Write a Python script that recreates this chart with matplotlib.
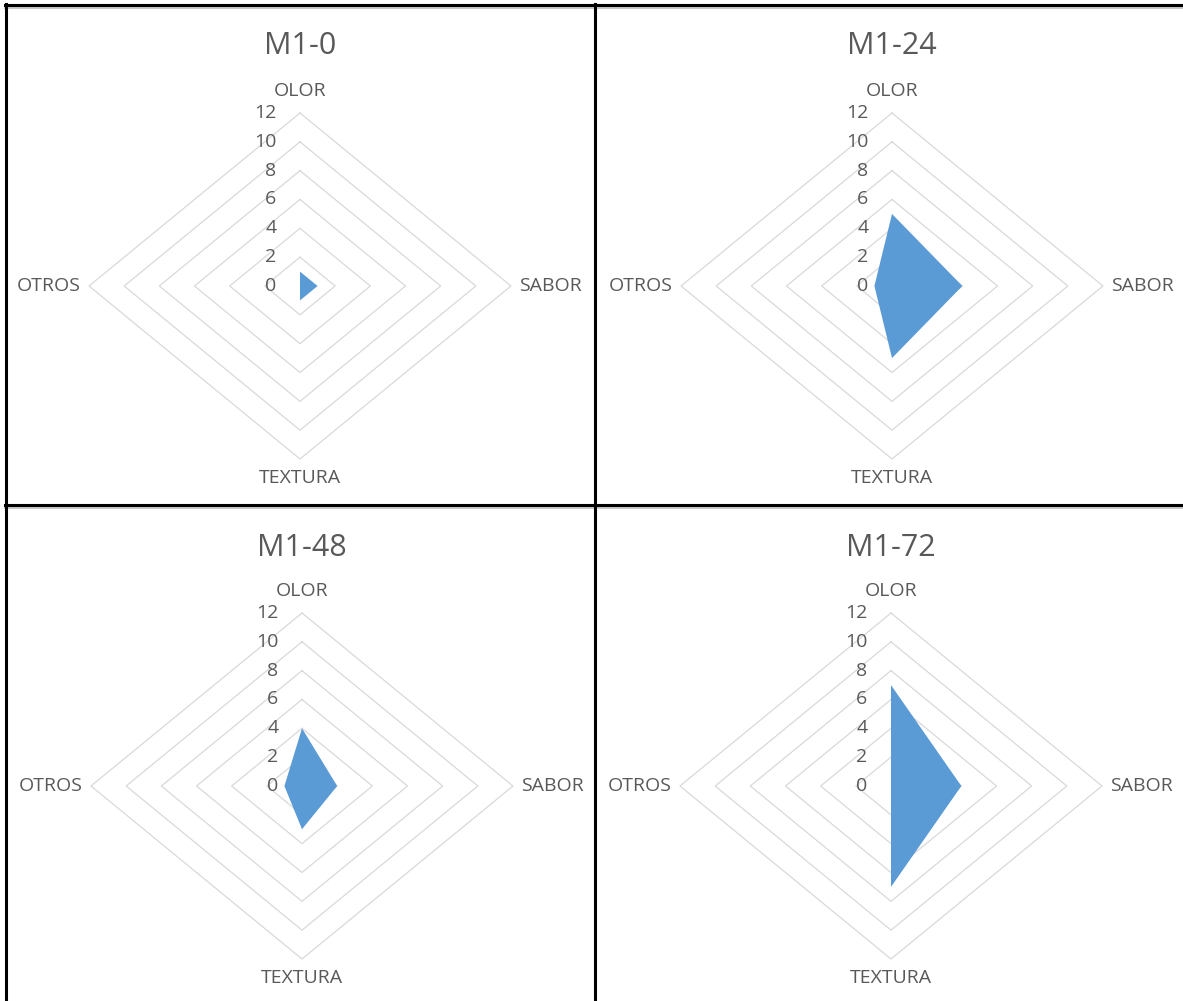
import numpy as np
import matplotlib
matplotlib.use("Agg")
import matplotlib.pyplot as plt
from matplotlib.lines import Line2D

plt.rcParams['font.family'] = ['Open Sans', 'DejaVu Sans']

categories = ["OLOR", "SABOR", "TEXTURA", "OTROS"]
titles = ["M1-0", "M1-24", "M1-48", "M1-72"]
m1_0 = [1, 1, 1, 0]
m1_24 = [5, 4, 5, 1]
m1_48 = [4, 2, 3, 1]
m1_72 = [7, 4, 7, 0]
series = [m1_0, m1_24, m1_48, m1_72]
ticks = [0, 2, 4, 6, 8, 10, 12]
rmax = 12

W, H = 1183, 1001
fig = plt.figure(figsize=(W / 100, H / 100), dpi=100)

# panel centres (pixels from top-left) and title heights
centres = [(300, 286), (892, 286), (302, 786), (891, 786)]
title_y = [46, 46, 548, 548]
half_w, half_h = 211, 173

angles = np.pi / 2 - np.arange(len(categories)) * 2 * np.pi / len(categories)
dx = np.round(np.cos(angles), 6)
dy = np.round(np.sin(angles), 6)

grey = "#595959"
grid = "#d9d9d9"
fill = "#5B9BD5"

for (cx, cy), ty, title, vals in zip(centres, title_y, titles, series):
    ax = fig.add_axes([(cx - half_w) / W, (H - cy - half_h) / H,
                       2 * half_w / W, 2 * half_h / H])
    ax.set_xlim(-rmax, rmax)
    ax.set_ylim(-rmax, rmax)
    ax.axis('off')

    # diamond grid
    for t in ticks[1:]:
        gx = np.append(dx * t, dx[0] * t)
        gy = np.append(dy * t, dy[0] * t)
        ax.plot(gx, gy, color=grid, lw=0.9, clip_on=False, zorder=1)

    # value polygon
    v = np.array(vals, dtype=float)
    ax.fill(dx * v, dy * v, color=fill, lw=0, zorder=3)

    # radial tick labels
    for t in ticks:
        ax.annotate(str(t), xy=(0, t), xytext=(-17, 0), textcoords='offset points',
                    ha='right', va='center', fontsize=14, color=grey,
                    annotation_clip=False)

    # category labels
    offsets = [(0, 16), (6, 0), (0, -14), (-6, 0)]
    aligns = [('center', 'center'), ('left', 'center'),
              ('center', 'center'), ('right', 'center')]
    for name, x, y, off, (ha, va) in zip(categories, dx, dy, offsets, aligns):
        ax.annotate(name, xy=(x * rmax, y * rmax), xytext=off,
                    textcoords='offset points', ha=ha, va=va,
                    fontsize=14, color=grey, annotation_clip=False)

    fig.text(cx / W, 1 - ty / H, title, ha='center', va='center',
             fontsize=22, color=grey)

# panel borders
def hline(y, x0, x1, **kw):
    fig.add_artist(Line2D([x0 / W, x1 / W], [1 - y / H, 1 - y / H], **kw))

def vline(x, y0, y1, **kw):
    fig.add_artist(Line2D([x / W, x / W], [1 - y0 / H, 1 - y1 / H], **kw))

hline(7.5, 5, W, color="#c8c8c8", lw=1.5)
hline(507.5, 5, W, color="#c8c8c8", lw=1.5)
hline(5, 5, W, color="black", lw=2.2)
hline(505, 5, W, color="black", lw=2.2)
vline(6, 4, H, color="black", lw=2.2)
vline(595, 4, H, color="black", lw=2.2)

fig.savefig("out.png", dpi=100, facecolor="white")
